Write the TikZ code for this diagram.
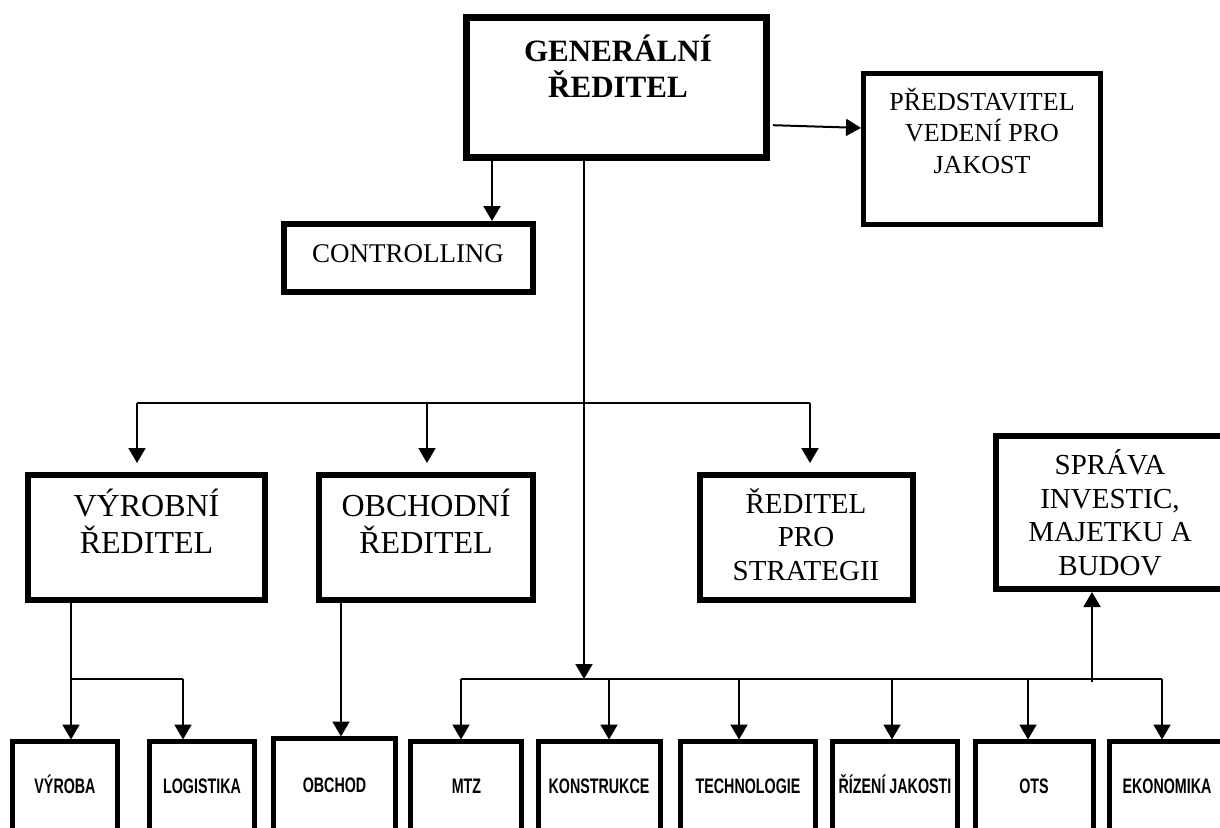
\documentclass[tikz,border=0pt]{standalone}
\usepackage{fontspec}
\setmainfont{Liberation Serif}
\newfontfamily\unitfont{Liberation Sans}
\usetikzlibrary{arrows.meta}

% box drawn from its outer corners: name, x1, y1, x2, y2, border width
\newcommand\orgframe[6]{%
  \node[frame, line width=#6pt,
        minimum width={(#4)-(#2)-(#6)}, minimum height={(#5)-(#3)-(#6)}]
        (#1) at ({((#2)+(#4))/2},{((#3)+(#5))/2}) {};}

\tikzset{
  link/.style={line width=2pt, line cap=butt},
  arr/.style={link, -{Triangle[width=17pt,length=15pt]}},
  frame/.style={draw, inner sep=0pt, outer sep=0pt},
  % multi-line captions are placed by the baseline of their last line
  caption/.style={inner sep=0pt, outer sep=0pt, align=center, anchor=base},
  unitcaption/.style={inner sep=0pt, outer sep=0pt, anchor=base,
    font=\unitfont\bfseries\fontsize{21}{24}\selectfont},
}
\newcommand\narrow[1]{\scalebox{0.68}[1]{#1}}

\begin{document}
\begin{tikzpicture}[x=1pt, y=-1pt]
\useasboundingbox (0,0) rectangle (1220,827);
\clip (0,0) rectangle (1220,827);

% ---- boxes ----
\orgframe{gr}{463}{14}{770}{161}{7}
\orgframe{pq}{861}{71}{1103}{227}{5}
\orgframe{ctrl}{281}{221}{536}{295}{6}
\orgframe{vr}{25}{472}{268}{603}{6}
\orgframe{obr}{316}{472}{536}{603}{6}
\orgframe{strat}{697}{472}{916}{603}{6}
\orgframe{spr}{993}{433}{1227}{592}{6}

\orgframe{vyroba}{10}{739}{120}{880}{5}
\orgframe{logi}{147}{739}{257}{880}{5}
\orgframe{obchod}{271}{736}{398}{880}{5}
\orgframe{mtz}{408}{739}{524}{880}{5}
\orgframe{kons}{536}{739}{663}{880}{5}
\orgframe{tech}{678}{739}{818}{880}{5}
\orgframe{rj}{830}{739}{960}{880}{5}
\orgframe{ots}{973}{739}{1096}{880}{5}
\orgframe{eko}{1107}{739}{1227}{880}{5}

% ---- captions ----
\node[caption, font=\bfseries\fontsize{31}{36}\selectfont] (gr-t) at (618,97) {GENERÁLNÍ\\ŘEDITEL};
\node[caption, font=\fontsize{26}{31.5}\selectfont] (pq-t) at (982,173) {PŘEDSTAVITEL\\VEDENÍ PRO\\JAKOST};
\node[caption, font=\fontsize{27}{31}\selectfont] (ctrl-t) at (408,262) {CONTROLLING};
\node[caption, font=\fontsize{32}{37}\selectfont] (vr-t) at (146.5,553) {VÝROBNÍ\\ŘEDITEL};
\node[caption, font=\fontsize{32}{37}\selectfont] (obr-t) at (426,553) {OBCHODNÍ\\ŘEDITEL};
\node[caption, font=\fontsize{29}{33.5}\selectfont] (strat-t) at (806,580) {ŘEDITEL\\PRO\\STRATEGII};
\node[caption, font=\fontsize{29}{33.5}\selectfont] (spr-t) at (1110,575) {SPRÁVA\\INVESTIC,\\MAJETKU A\\BUDOV};

\node[unitcaption] (vyroba-t) at (65,793) {\narrow{VÝROBA}};
\node[unitcaption] (logi-t) at (202,793) {\narrow{LOGISTIKA}};
\node[unitcaption] (obchod-t) at (334.5,792) {\narrow{OBCHOD}};
\node[unitcaption] (mtz-t) at (466.5,793) {\narrow{MTZ}};
\node[unitcaption] (kons-t) at (599,793) {\narrow{KONSTRUKCE}};
\node[unitcaption] (tech-t) at (748,793) {\narrow{TECHNOLOGIE}};
\node[unitcaption] (rj-t) at (895,793) {\narrow{ŘÍZENÍ JAKOSTI}};
\node[unitcaption] (ots-t) at (1034,793) {\narrow{OTS}};
\node[unitcaption] (eko-t) at (1167,793) {\narrow{EKONOMIKA}};

% ---- junction points ----
\coordinate (cx) at (492,161);
\coordinate (trunk) at (584,679);
\coordinate (tbL) at (137,403);
\coordinate (tbM) at (427,403);
\coordinate (tbR) at (810,403);
\coordinate (vj) at (71,679);
\coordinate (lj) at (183,679);
\coordinate (oj) at (341,679);
\coordinate (b1) at (461,679);
\coordinate (b2) at (609,679);
\coordinate (b3) at (739,679);
\coordinate (b4) at (892,679);
\coordinate (b5) at (1028,679);
\coordinate (b6) at (1162,679);
\coordinate (bup) at (1092,682);

% ---- connectors ----
\draw[arr, shorten >=3pt] (gr.south -| cx) -- (ctrl.north -| cx);
\draw[arr, shorten <=6.5pt, shorten >=2.5pt] ([yshift=-37.5pt]gr.east) -- ([yshift=21pt]pq.west);
\draw[arr] (gr.south -| trunk) -- (trunk);

\draw[link] (tbL) -- (tbR);
\draw[arr, shorten >=12pt] (tbL) -- (vr.north -| tbL);
\draw[arr, shorten >=12pt] (tbM) -- (obr.north -| tbM);
\draw[arr, shorten >=12pt] (tbR) -- (strat.north -| tbR);

\draw[arr, shorten >=2pt] (vr.south -| vj) -- (vyroba.north -| vj);
\draw[link] (vj) -- (lj);
\draw[arr, shorten >=2pt] (lj) -- (logi.north -| lj);
\draw[arr, shorten >=2pt] (obr.south -| oj) -- (obchod.north -| oj);

\draw[link] (b1) -- (b6);
\draw[arr, shorten >=2pt] (b1) -- (mtz.north -| b1);
\draw[arr, shorten >=2pt] (b2) -- (kons.north -| b2);
\draw[arr, shorten >=2pt] (b3) -- (tech.north -| b3);
\draw[arr, shorten >=2pt] (b4) -- (rj.north -| b4);
\draw[arr, shorten >=2pt] (b5) -- (ots.north -| b5);
\draw[arr, shorten >=2pt] (b6) -- (eko.north -| b6);
\draw[arr, shorten >=3pt] (bup) -- (spr.south -| bup);
\end{tikzpicture}
\end{document}
